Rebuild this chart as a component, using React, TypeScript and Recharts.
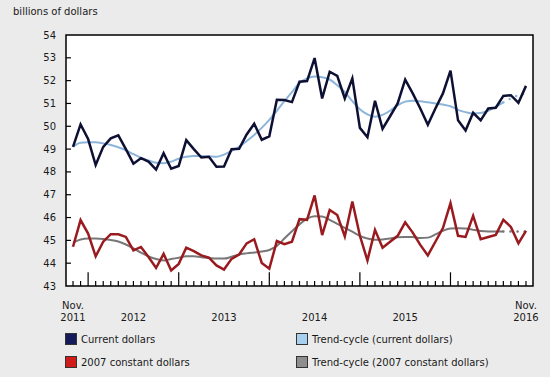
import { LineChart, Line, XAxis, YAxis, ReferenceArea, ReferenceLine } from "recharts";

// Monthly, Nov. 2011 to Nov. 2016
const months: string[] = [];
for (let y = 2011; y <= 2016; y++) {
  for (let m = 1; m <= 12; m++) {
    if ((y === 2011 && m < 11) || (y === 2016 && m > 11)) continue;
    months.push(`${y}-${String(m).padStart(2, "0")}`);
  }
}

const currentDollars = [
  49.1, 50.08, 49.44, 48.3, 49.1, 49.47, 49.6, 49.0, 48.36, 48.6,
  48.45, 48.1, 48.82, 48.14, 48.26, 49.39, 49.0, 48.63, 48.66, 48.23,
  48.24, 48.99, 49.01, 49.64, 50.11, 49.41, 49.56, 51.16, 51.15, 51.06,
  51.95, 51.98, 52.99, 51.22, 52.39, 52.21, 51.22, 52.1, 49.93, 49.52,
  51.12, 49.89, 50.44, 51.0, 52.04, 51.44, 50.78, 50.07, 50.78, 51.44,
  52.44, 50.26, 49.81, 50.59, 50.26, 50.78, 50.81, 51.33, 51.36, 51.03,
  51.77,
];

const trendCurrent = [
  49.1, 49.28, 49.3, 49.3, 49.25, 49.18, 49.08, 48.95, 48.78, 48.62,
  48.5, 48.4, 48.38, 48.45, 48.58, 48.66, 48.7, 48.7, 48.68, 48.66,
  48.76, 48.92, 49.1, 49.35, 49.62, 49.93, 50.28, 50.68, 51.1, 51.5,
  51.9, 52.1, 52.18, 52.15, 52.05, 51.8, 51.5, 51.1, 50.75, 50.52,
  50.42, 50.5, 50.68, 50.92, 51.08, 51.12, 51.1, 51.05, 51.0, 50.95,
  50.88, 50.72, 50.62, 50.56, 50.58, 50.68, 50.85, 51.05, 51.22, 51.36,
  51.44,
];

const constantDollars = [
  44.72, 45.89, 45.3, 44.3, 44.94, 45.27, 45.27, 45.15, 44.56, 44.71,
  44.27, 43.79, 44.41, 43.68, 43.97, 44.68, 44.53, 44.34, 44.24, 43.9,
  43.72, 44.19, 44.38, 44.87, 45.05, 44.01, 43.76, 44.97, 44.83, 44.94,
  45.93, 45.9, 46.97, 45.23, 46.33, 46.11, 45.17, 46.7, 45.2, 44.12,
  45.46, 44.68, 44.94, 45.2, 45.79, 45.34, 44.8, 44.34, 44.94, 45.54,
  46.63, 45.2, 45.15, 46.07, 45.05, 45.15, 45.24, 45.9, 45.59, 44.87,
  45.42,
];

const trendConstant = [
  44.9, 45.04, 45.08, 45.08, 45.06, 45.02, 44.95, 44.82, 44.65, 44.46,
  44.3, 44.18, 44.12, 44.18, 44.24, 44.3, 44.3, 44.26, 44.23, 44.2,
  44.2, 44.28, 44.38, 44.43, 44.47, 44.51, 44.58, 44.76, 45.08, 45.4,
  45.7, 45.95, 46.06, 46.05, 45.9, 45.72, 45.55, 45.38, 45.2, 45.08,
  45.03, 45.04, 45.08, 45.14, 45.15, 45.15, 45.1, 45.12, 45.26, 45.42,
  45.52, 45.53, 45.52, 45.46, 45.41, 45.39, 45.39, 45.39, 45.39, 45.39,
  45.39,
];

// last points of the trend-cycle are shown dotted
const dottedFrom = 57;

const yTicks = [43, 44, 45, 46, 47, 48, 49, 50, 51, 52, 53, 54];
const xTickIdx = [0, 8, 20, 32, 44, 60];
const xTickLabels = [
  ["Nov.", "2011"],
  ["", "2012"],
  ["", "2013"],
  ["", "2014"],
  ["", "2015"],
  ["Nov.", "2016"],
];

const data = months.map((m, i) => ({
  i,
  month: m,
  cur: currentDollars[i],
  con: constantDollars[i],
  tcSolid: i <= dottedFrom ? trendCurrent[i] : null,
  tcDot: i >= dottedFrom ? trendCurrent[i] : null,
  tkSolid: i <= dottedFrom ? trendConstant[i] : null,
  tkDot: i >= dottedFrom ? trendConstant[i] : null,
}));

const X0 = -0.93;
const X1 = 60.93;
const FONT = "'DejaVu Sans', Verdana, sans-serif";

const XTick = (props: any) => {
  const { x, y, payload } = props;
  const k = xTickIdx.indexOf(payload.value);
  const [l1, l2] = xTickLabels[k] || ["", ""];
  return (
    <g>
      <text x={x} y={y + 21} textAnchor="middle" fontSize={10} fill="#1a1a1a" fontFamily={FONT}>
        {l1}
      </text>
      <text x={x} y={y + 33} textAnchor="middle" fontSize={10} fill="#1a1a1a" fontFamily={FONT}>
        {l2}
      </text>
    </g>
  );
};

const legend = [
  { label: "Current dollars", color: "#141a5a", left: 65, top: 333 },
  { label: "Trend-cycle (current dollars)", color: "#a9cff0", left: 296, top: 333 },
  { label: "2007 constant dollars", color: "#d11a1a", left: 65, top: 356 },
  { label: "Trend-cycle (2007 constant dollars)", color: "#8e8e8e", left: 296, top: 356 },
];

export default function App() {
  return (
    <div
      style={{
        position: "fixed",
        left: 0,
        top: 0,
        width: 550,
        height: 377,
        background: "#ebebeb",
        fontFamily: FONT,
      }}
    >
      <div style={{ position: "absolute", left: 13, top: 6, fontSize: 10, color: "#1a1a1a" }}>
        billions of dollars
      </div>
      <LineChart width={550} height={377} data={data} margin={{ top: 35, right: 17, left: 16, bottom: 51 }}>
        <ReferenceArea x1={X0} x2={X1} y1={43} y2={54} fill="#ffffff" fillOpacity={1} stroke="#000" strokeWidth={1.5} ifOverflow="visible" />
        <XAxis
          type="number"
          dataKey="i"
          domain={[X0, X1]}
          allowDataOverflow
          ticks={xTickIdx}
          interval={0}
          tick={<XTick />}
          axisLine={false}
          tickLine={false}
          tickSize={0}
          height={40}
        />
        <YAxis
          type="number"
          domain={[43, 54]}
          allowDataOverflow
          ticks={yTicks}
          interval={0}
          axisLine={false}
          tickLine={false}
          tickSize={0}
          tickMargin={10}
          width={50}
          tick={{ fontSize: 10, fill: "#1a1a1a", fontFamily: FONT }}
        />
        {yTicks.slice(1, -1).map((v) => (
          <ReferenceLine key={`y${v}`} segment={[{ x: X0, y: v }, { x: X0 + 0.66, y: v }]} stroke="#000" strokeWidth={1.2} ifOverflow="visible" />
        ))}
        {months.map((m, i) => (
          <ReferenceLine
            key={`x${m}`}
            segment={[{ x: i, y: 43 }, { x: i, y: m.endsWith("-01") ? 43.6 : 43.22 }]}
            stroke="#000"
            strokeWidth={1.2}
            ifOverflow="visible"
          />
        ))}
        <Line type="monotone" dataKey="tcSolid" stroke="#8db5da" strokeWidth={2} dot={false} isAnimationActive={false} connectNulls={false} />
        <Line type="monotone" dataKey="tcDot" stroke="#8db5da" strokeWidth={2.5} strokeDasharray="0.1 7" strokeLinecap="round" dot={false} isAnimationActive={false} />
        <Line type="monotone" dataKey="tkSolid" stroke="#777777" strokeWidth={2} dot={false} isAnimationActive={false} />
        <Line type="monotone" dataKey="tkDot" stroke="#777777" strokeWidth={2.5} strokeDasharray="0.1 7" strokeLinecap="round" dot={false} isAnimationActive={false} />
        <Line type="linear" dataKey="cur" stroke="#0d1033" strokeWidth={2.5} dot={false} isAnimationActive={false} />
        <Line type="linear" dataKey="con" stroke="#9a1b1f" strokeWidth={2.5} dot={false} isAnimationActive={false} />
      </LineChart>
      {legend.map((l) => (
        <div
          key={l.label}
          style={{
            position: "absolute",
            left: l.left,
            top: l.top,
            display: "flex",
            alignItems: "center",
            fontSize: 10,
            color: "#1a1a1a",
            whiteSpace: "nowrap",
          }}
        >
          <span
            style={{
              display: "inline-block",
              width: 10,
              height: 10,
              background: l.color,
              border: "1px solid #333",
              marginRight: 4,
            }}
          />
          {l.label}
        </div>
      ))}
    </div>
  );
}
